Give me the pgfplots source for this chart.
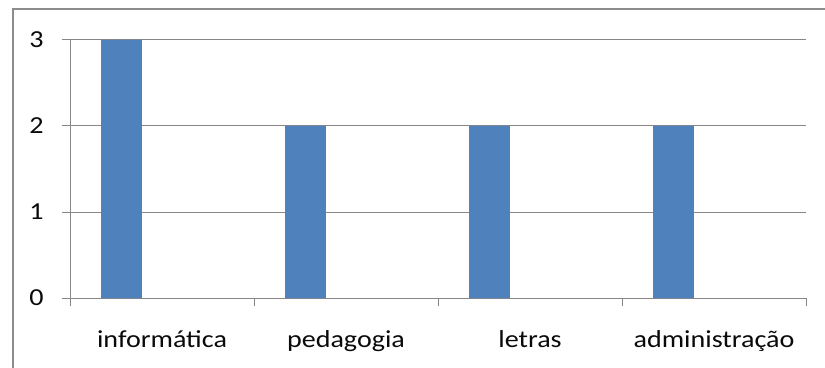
\documentclass[border=0pt]{standalone}
\usepackage{fontspec}
\setmainfont{Carlito}[FakeStretch=1.15]
\usepackage{pgfplots}
\pgfplotsset{compat=1.18}
\definecolor{barblue}{RGB}{79,129,189}
\definecolor{linegray}{RGB}{134,134,134}
\definecolor{framegray}{RGB}{140,140,140}
\definecolor{labelcol}{RGB}{10,10,10}
\begin{document}
\begin{tikzpicture}[x=1bp,y=1bp]
\clip (0,0) rectangle (825,367);
\fill[white] (0,0) rectangle (825,367);
% chart area frame
\draw[framegray, line width=1.2bp] (13,-20) -- (13,358) -- (845,358);
\begin{axis}[
  at={(70bp,69bp)}, anchor=south west,
  scale only axis, width=736bp, height=258bp,
  xmin=0, xmax=4, ymin=0, ymax=3,
  axis x line*=bottom, axis y line*=left,
  axis line style={draw=linegray, line width=1bp, -},
  ytick={0,1,2,3},
  ymajorgrids, grid style={draw=linegray, line width=1bp},
  xtick={0.5,1.5,2.5,3.5},
  xticklabels={informática, pedagogia, letras, administração},
  minor xtick={0,1,2,3,4},
  tick align=outside,
  major tick length=8bp, minor tick length=8bp,
  tick style={draw=linegray, line width=1bp},
  x tick style={draw=none},
  minor x tick style={draw=linegray, line width=1bp},
  /pgf/number format/assume math mode=true,
  tick label style={font=\fontsize{24.5}{28}\selectfont, text=labelcol},
  xticklabel style={anchor=base, yshift=-41bp},
  yticklabel style={anchor=east, xshift=-15bp},
  clip=false,
]
\addplot[ybar, bar width=0.222, bar shift=0, fill=barblue, draw=none]
  coordinates {(0.28,3) (1.28,2) (2.28,2) (3.28,2)};
\end{axis}
\end{tikzpicture}
\end{document}
